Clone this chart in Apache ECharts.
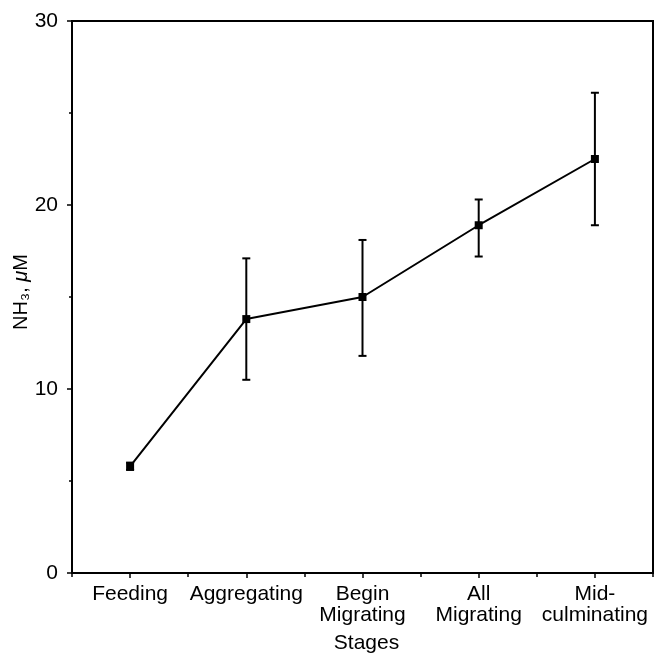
<!DOCTYPE html>
<html>
<head>
    <meta charset="utf-8">
    <title>NH3 by stage</title>
    <script src="https://cdn.jsdelivr.net/npm/echarts@6.0.0/dist/echarts.min.js"></script>
    <style>
        html, body { margin: 0; padding: 0; background: #fff; }
        #chart { width: 655px; height: 658px; }
    </style>
</head>
<body>
    <div id="chart"></div>

    <script>
        // stages (x categories)
        const stages = ['Feeding', 'Aggregating', 'Begin\nMigrating', 'All\nMigrating', 'Mid-\nculminating'];
        // mean NH3, uM
        const nh3Mean = [5.8, 13.8, 15.0, 18.9, 22.5];
        // error bar low / high
        const nh3Low = [5.6, 10.5, 11.8, 17.2, 18.9];
        const nh3High = [6.0, 17.1, 18.1, 20.3, 26.1];
        const yTicks = [0, 10, 20, 30];

        const font = 'Liberation Sans, Arial, sans-serif';
        const chart = echarts.init(document.getElementById('chart'));

        const errData = stages.map((s, i) => [i, nh3Low[i], nh3High[i]]);

        const option = {
            animation: false,
            grid: {
                left: 72, right: 2, top: 21, bottom: 85,
                containLabel: false, outerBoundsMode: 'none',
                show: true, borderColor: '#000', borderWidth: 2
            },
            xAxis: [{
                type: 'category',
                data: stages,
                boundaryGap: true,
                name: 'Stages',
                nameLocation: 'middle',
                nameGap: 60,
                nameMoveOverlap: false,
                nameTextStyle: { fontFamily: font, fontSize: 21, color: '#000', padding: [0, 0, 0, 8] },
                axisLine: { lineStyle: { color: '#000', width: 2 } },
                axisTick: { show: true, interval: 0, length: 4, lineStyle: { color: '#000', width: 1.5 } },
                axisLabel: {
                    interval: 0, margin: 11, color: '#000',
                    fontFamily: font, fontSize: 21, lineHeight: 21
                }
            }, {
                // second axis only to draw the ticks under each category
                type: 'category',
                data: stages,
                position: 'bottom',
                axisLine: { show: false },
                axisTick: { show: true, alignWithLabel: true, interval: 0, length: 5, lineStyle: { color: '#000', width: 1.5 } },
                axisLabel: { show: false }
            }],
            yAxis: {
                type: 'value',
                min: 0, max: 30, interval: 10,
                name: '{a|NH₃,\u00a0}{b|μ}{a|M}',
                nameLocation: 'middle',
                nameGap: 41,
                nameMoveOverlap: false,
                nameRotate: 90,
                nameTextStyle: {
                    color: '#000', padding: [0, 0, 0, 10],
                    rich: {
                        a: { fontFamily: font, fontSize: 20, color: '#000' },
                        b: { fontFamily: font, fontSize: 20, fontStyle: 'italic', color: '#000' }
                    }
                },
                axisLine: { show: true, lineStyle: { color: '#000', width: 2 } },
                axisTick: { show: true, length: 5, lineStyle: { color: '#000', width: 1.5 } },
                minorTick: { show: true, splitNumber: 2, length: 3, lineStyle: { color: '#000', width: 1.5 } },
                splitLine: { show: false },
                axisLabel: {
                    margin: 14, color: '#000', fontFamily: font, fontSize: 21,
                    formatter: v => yTicks.indexOf(v) >= 0 ? String(v) : ''
                }
            },
            series: [{
                type: 'line',
                data: nh3Mean,
                symbol: 'rect',
                symbolSize: 8,
                lineStyle: { color: '#000', width: 2 },
                itemStyle: { color: '#000' },
                z: 3
            }, {
                type: 'custom',
                data: errData,
                z: 4,
                renderItem: (params, api) => {
                    const x = api.value(0);
                    const lo = api.coord([x, api.value(1)]);
                    const hi = api.coord([x, api.value(2)]);
                    const cap = 4;
                    const st = { stroke: '#000', lineWidth: 2 };
                    return {
                        type: 'group',
                        children: [
                            { type: 'line', shape: { x1: lo[0], y1: lo[1], x2: hi[0], y2: hi[1] }, style: st },
                            { type: 'line', shape: { x1: lo[0] - cap, y1: lo[1], x2: lo[0] + cap, y2: lo[1] }, style: st },
                            { type: 'line', shape: { x1: hi[0] - cap, y1: hi[1], x2: hi[0] + cap, y2: hi[1] }, style: st }
                        ]
                    };
                }
            }]
        };

        chart.setOption(option);
    </script>
</body>
</html>
